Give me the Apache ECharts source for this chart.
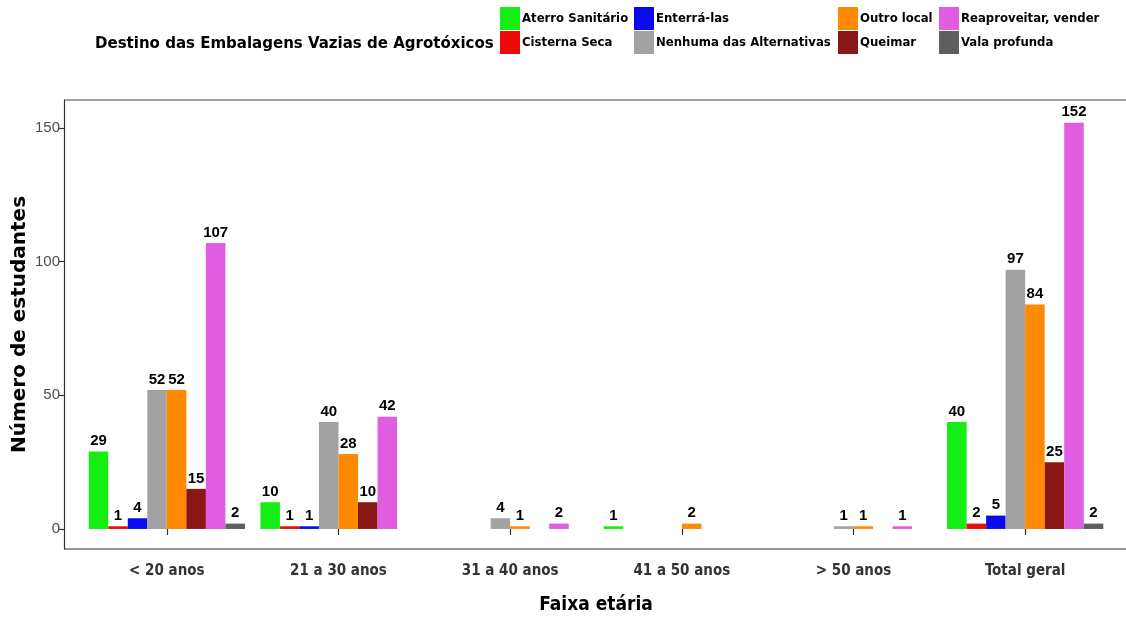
<!DOCTYPE html>
<html><head><meta charset="utf-8">
<script src="https://cdn.jsdelivr.net/npm/echarts@6/dist/echarts.min.js"></script>
<style>html,body{margin:0;padding:0;background:#fff}#c{width:1126px;height:617px}</style>
</head><body><div id="c"></div>
<script>
const categories = ['< 20 anos', '21 a 30 anos', '31 a 40 anos', '41 a 50 anos', '> 50 anos', 'Total geral'];
const seriesNames = ['Aterro Sanitário', 'Cisterna Seca', 'Enterrá-las', 'Nenhuma das Alternativas', 'Outro local', 'Queimar', 'Reaproveitar, vender', 'Vala profunda'];
const aterro = [29, 10, null, 1, null, 40];
const cisterna = [1, 1, null, null, null, 2];
const enterrar = [4, 1, null, null, null, 5];
const nenhuma = [52, 40, 4, null, 1, 97];
const outro = [52, 28, 1, 2, 1, 84];
const queimar = [15, 10, null, null, null, 25];
const reaproveitar = [107, 42, 2, null, 1, 152];
const vala = [2, null, null, null, null, 2];
const yTicks = [0, 50, 100, 150];

const colors = ['#14EE14', '#EE0A0A', '#0A0AEE', '#A2A2A2', '#FF8A00', '#8A1616', '#E05CE0', '#5E5E5E'];
const values = [aterro, cisterna, enterrar, nenhuma, outro, queimar, reaproveitar, vala];
const NARROW = "'Liberation Sans Narrow', 'Arial Narrow', 'DejaVu Sans Condensed', sans-serif";
const ARIAL = "'Liberation Sans', Arial, sans-serif";

const chart = echarts.init(document.getElementById('c'), null, {renderer: 'canvas'});
const series = seriesNames.map((n, i) => ({
  name: n, type: 'bar', data: values[i], barGap: 0, barCategoryGap: '9%',
  itemStyle: {color: colors[i]},
  label: {show: true, position: 'top', distance: 3, color: '#000', fontWeight: 'bold', fontSize: 15, fontFamily: ARIAL},
  emphasis: {disabled: true}
}));
const legendCols = [[0, 1, 500], [2, 3, 634], [4, 5, 838], [6, 7, 939]];
const legends = legendCols.map(([a, b, x]) => ({
  orient: 'vertical', left: x, top: 7, padding: 0, itemWidth: 20, itemHeight: 23, itemGap: 1,
  icon: 'rect', data: [seriesNames[a], seriesNames[b]], selectedMode: false,
  textStyle: {fontFamily: NARROW, fontWeight: 'bold', fontSize: 13, color: '#000', padding: [0, 0, 0, -3]}
}));
chart.setOption({
  animation: false,
  color: colors,
  title: {text: 'Destino das Embalagens Vazias de Agrotóxicos', left: 95, top: 35, padding: 0,
    textStyle: {fontFamily: NARROW, fontWeight: 'bold', fontSize: 16.7, color: '#000'}},
  legend: legends,
  grid: {left: 81, right: 15, top: 100, bottom: 68, outerBoundsMode: 'none', containLabel: false},
  xAxis: {
    type: 'category', data: categories,
    name: 'Faixa etária', nameLocation: 'middle', nameGap: 47,
    nameTextStyle: {fontFamily: NARROW, fontWeight: 'bold', fontSize: 19, color: '#000'},
    axisLine: {show: false},
    axisTick: {show: true, alignWithLabel: true, length: 6, lineStyle: {color: '#333', width: 1.2}},
    axisLabel: {fontFamily: NARROW, fontSize: 15, fontWeight: 'bold', color: '#333', margin: 15}
  },
  yAxis: {
    type: 'value', min: -7.5, max: 160.5, offset: 17,
    name: 'Número de estudantes', nameLocation: 'middle', nameGap: 34, nameMoveOverlap: false,
    nameTextStyle: {fontFamily: "'DejaVu Sans', sans-serif", fontWeight: 'bold', fontSize: 20, color: '#000'},
    axisLine: {show: true, lineStyle: {color: '#333', width: 1.2}},
    axisTick: {show: true, length: 5, customValues: yTicks, lineStyle: {color: '#333', width: 1.2}},
    axisLabel: {customValues: yTicks, fontFamily: ARIAL, fontSize: 15, color: '#4d4d4d', margin: 4},
    splitLine: {show: false}
  },
  graphic: [
    {type: 'line', shape: {x1: 64, y1: 100, x2: 1126, y2: 100}, style: {stroke: '#444', lineWidth: 1.2}, silent: true},
    {type: 'line', shape: {x1: 64, y1: 549, x2: 1126, y2: 549}, style: {stroke: '#333', lineWidth: 1.2}, silent: true}
  ],
  series: series
});
</script></body></html>
